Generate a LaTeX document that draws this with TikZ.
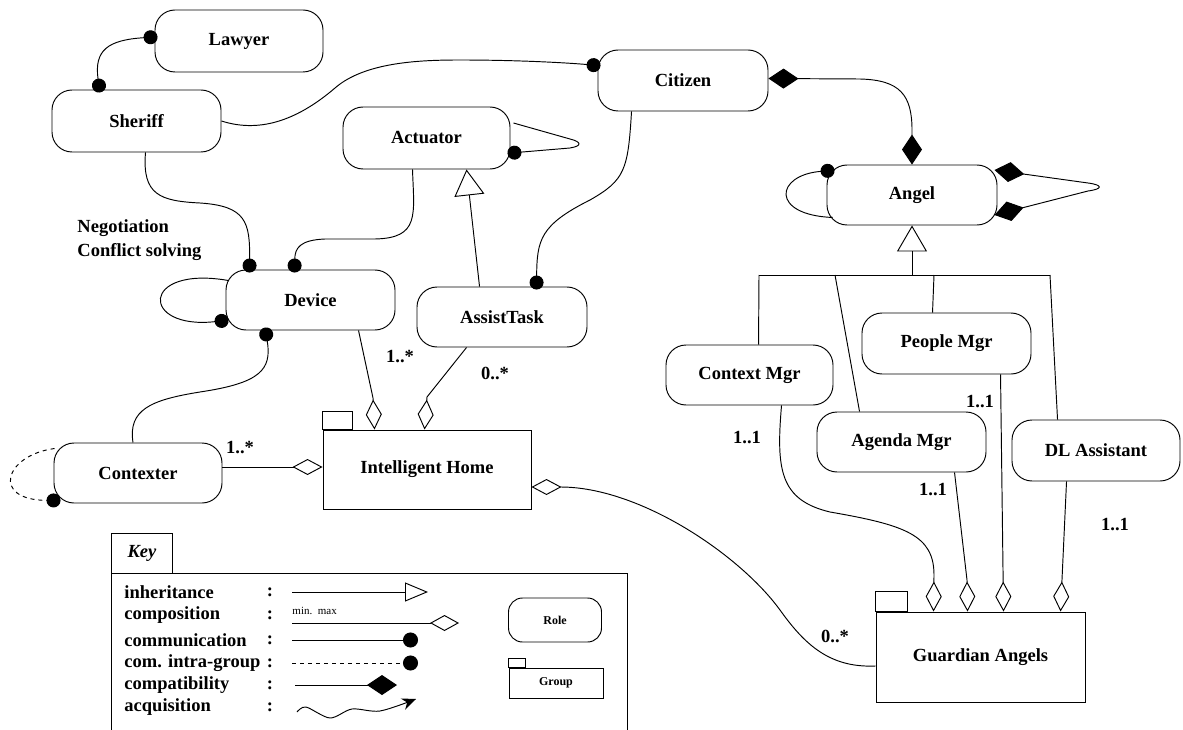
\documentclass[tikz,border=0pt]{standalone}
\usepackage{fontspec}
\setmainfont{Liberation Serif}
\usetikzlibrary{arrows.meta,calc}
\tikzset{
  txt/.style={font=\fontsize{18.5}{21}\selectfont\bfseries},
  role/.style={draw,rounded corners=20pt,inner sep=0pt,txt},
  grp/.style={draw,inner sep=0pt,txt},
  lbl/.style={inner sep=0pt,txt},
  c1/.style={-{Circle[length=14pt]},shorten >=-3pt},
  c0/.style={{Circle[length=14pt]}-,shorten <=-3pt},
  c2/.style={{Circle[length=14pt]}-{Circle[length=14pt]},shorten >=-3pt,shorten <=-3pt},
  comp/.style={-{Diamond[open,length=30pt,width=16pt]}},
  f2/.style={{Diamond[length=30pt,width=20pt]}-{Diamond[length=30pt,width=20pt]}},
  inh/.style={-{Triangle[open,length=26pt,width=30pt]}},
}
\begin{document}
\begin{tikzpicture}[x=1pt,y=-1pt,line width=0.95pt]
\useasboundingbox (0,0) rectangle (1183,730);

% roles
\node[role,minimum width=168pt,minimum height=62pt] (lawyer) at (239,41) {Lawyer};
\node[role,minimum width=169pt,minimum height=62pt] (sheriff) at (136.5,121) {Sheriff};
\node[role,minimum width=170pt,minimum height=61pt] (citizen) at (683,80.5) {Citizen};
\node[role,minimum width=167pt,minimum height=62pt] (actuator) at (426.5,138) {Actuator};
\node[role,minimum width=170pt,minimum height=60pt] (angel) at (912,195) {Angel};
\node[role,minimum width=169pt,minimum height=60pt] (device) at (310.5,300) {Device};
\node[role,minimum width=170pt,minimum height=60pt] (assist) at (502,317) {AssistTask};
\node[role,minimum width=168pt,minimum height=60pt] (contexter) at (138,473) {Contexter};
\node[role,minimum width=167pt,minimum height=60pt] (contextmgr) at (749.5,375) {Context Mgr};
\node[role,minimum width=169pt,minimum height=61pt] (peoplemgr) at (946.5,343.5) {People Mgr};
\node[role,minimum width=169pt,minimum height=60pt] (agendamgr) at (901.5,442) {Agenda Mgr};
\node[role,minimum width=168pt,minimum height=61pt] (dlassist) at (1096,450.5) {DL Assistant};

% groups
\node[grp,minimum width=208pt,minimum height=79pt] (ih) at (427,469.5) {Intelligent Home};
\draw (ih.north west) rectangle ($(ih.north west)+(30,-18)$);
\node[grp,minimum width=209pt,minimum height=90pt] (ga) at (980.5,657) {Guardian Angels};
\draw (ga.north west) rectangle ($(ga.north west)+(32,-20)$);

% free text
\node[lbl,anchor=west] (neg1) at (77,228) {Negotiation};
\node[lbl,anchor=west] (neg2) at (77,252) {Conflict solving};

% connectors
\draw[c2] ($(lawyer.west)+(0,-4)$) .. controls (108,40) and (94,50) .. ($(sheriff.north west)+(48,0)$);
\draw[c1] (sheriff.east) .. controls (262,134) and (300,118) .. (335,88) .. controls (365,62) and (420,60) .. (460,60) .. controls (520,60) and (570,63) .. ($(citizen.west)+(0,-15)$);
\draw[c1] ($(sheriff.south)+(9,0)$) .. controls (142,195) and (160,201) .. (200,203) .. controls (246,206) and (250,222) .. ($(device.north west)+(24,0)$);
\draw[c1] ($(actuator.south)+(-14,0)$) .. controls (414,215) and (420,238) .. (375,239) -- (325,239) .. controls (300,240) and (295,248) .. ($(device.north west)+(69,0)$);
\draw[c1] ($(actuator.east)+(3,-15)$) -- (570,139) .. controls (582,142) and (582,146) .. (570,148) -- ($(actuator.east)+(0,15)$);
\draw[inh] ($(assist.north west)+(63,0)$) -- ($(actuator.south)+(40,0)$);
\draw[c1] ($(citizen.south west)+(34,0)$) .. controls (628,170) and (625,180) .. (590,200) .. controls (540,225) and (537,240) .. ($(assist.north west)+(120,0)$);
\draw[c1] ($(device.north west)+(3,11)$) .. controls (140,265) and (140,330) .. ($(device.south west)+(0,-10)$);
\draw[c0] ($(device.south west)+(40,0)$) .. controls (272,370) and (260,383) .. (200,392) .. controls (150,400) and (128,410) .. ($(contexter.north)+(-5,0)$);
\draw[comp] ($(device.south west)+(133,0)$) -- (373,398) -- ($(ih.north west)+(52,0)$);
\draw[comp] ($(assist.south west)+(50,0)$) -- (427,397) -- ($(ih.north west)+(102,0)$);
\draw[comp] ($(contexter.east)+(0,-6)$) -- ($(ih.west)+(0,-2.5)$);
\draw[c1,dash pattern=on 4pt off 4pt] ($(contexter.north west)+(1,6)$) .. controls (5,455) and (-10,500) .. ($(contexter.south west)+(4,-3)$);
\draw[comp] ($(ga.west)+(0,9)$) .. controls (830,668) and (805,645) .. (780,610) .. controls (740,555) and (640,487) .. ($(ih.east)+(0,17.5)$);
\draw[f2] ($(citizen.east)+(0,-2)$) -- (860,79) .. controls (900,80) and (912,95) .. (912,130) -- (angel.north);
\draw[c0] ($(angel.north west)+(5,6)$) .. controls (775,175) and (770,215) .. ($(angel.south west)+(6,-8)$);
\draw[f2] ($(angel.east)+(-3,-25)$) -- (1088,183) .. controls (1103,185) and (1103,189) .. (1088,191) -- ($(angel.east)+(-3,20)$);

% inheritance tree under Angel
\coordinate (bar) at (912,275);
\coordinate (barL) at (759,275);
\coordinate (barA) at (835,275);
\coordinate (barP) at (934,275);
\coordinate (barR) at (1050,275);
\draw[inh] (bar) -- (angel.south);
\draw (barL) -- (barR);
\draw (barL) -- ($(contextmgr.north west)+(93,0)$);
\draw (barA) -- ($(agendamgr.north west)+(43,0)$);
\draw (barP) -- ($(peoplemgr.north west)+(71,0)$);
\draw (barR) -- ($(dlassist.north west)+(46,0)$);

% compositions into Guardian Angels
\draw[comp] ($(contextmgr.south west)+(116,0)$) .. controls (776,470) and (780,500) .. (830,512) .. controls (905,525) and (934,535) .. (934,575) -- ($(ga.north west)+(58,0)$);
\draw[comp] ($(agendamgr.south west)+(138,0)$) -- (967,580) -- ($(ga.north west)+(92,0)$);
\draw[comp] ($(peoplemgr.south west)+(139,0)$) -- ($(ga.north west)+(128,0)$);
\draw[comp] ($(dlassist.south west)+(55,0)$) -- ($(ga.north west)+(185,0)$);

% multiplicities
\node[lbl] (m1) at (400,357) {1..*};
\node[lbl] (m2) at (495,373) {0..*};
\node[lbl] (m3) at (240,448) {1..*};
\node[lbl] (m4) at (835,636) {0..*};
\node[lbl] (m5) at (747,438) {1..1};
\node[lbl] (m6) at (980,402) {1..1};
\node[lbl] (m7) at (933,490) {1..1};
\node[lbl] (m8) at (1115,525) {1..1};

% key
\draw (111,730) -- (111,573) -- (627,573) -- (627,730);
\node[draw,inner sep=0pt,minimum width=61pt,minimum height=40pt,anchor=north west,font=\fontsize{18.5}{21}\selectfont\bfseries\itshape] (keytab) at (111,533) {Key};
\node[lbl,anchor=west] (k1) at (124,592) {inheritance};
\node[lbl,anchor=west] (k2) at (124,615) {composition};
\node[lbl,anchor=west] (k3) at (124,640) {communication};
\node[lbl,anchor=west] (k4) at (124,663) {com. intra-group};
\node[lbl,anchor=west] (k5) at (124,685) {compatibility};
\node[lbl,anchor=west] (k6) at (124,707) {acquisition};
\foreach \yy in {592,615,640,663,685,707} \node[lbl] at (270,\yy) {:};
\draw[-{Triangle[open,length=23pt,width=19pt]}] (292,592) -- (428,592);
\node[inner sep=0pt,anchor=west,font=\fontsize{11}{13}\selectfont] (minmax) at (292,611) {min.\ \ max};
\draw[-{Diamond[open,length=29pt,width=16pt]}] (292,623) -- (459,623);
\draw[-{Circle[length=15pt]}] (292,640) -- (418,640);
\draw[dash pattern=on 4pt off 4pt,-{Circle[length=15pt]}] (292,663) -- (418,663);
\draw[-{Diamond[length=30pt,width=20pt]}] (295,685) -- (397,685);
\draw[-{Stealth[length=14pt,width=12pt]}] plot[smooth] coordinates {(297,712) (306,707) (330,718) (352,709) (380,711) (416,699)};
\node[draw,rounded corners=14pt,inner sep=0pt,minimum width=93pt,minimum height=44pt,font=\fontsize{12}{14}\selectfont\bfseries] (rolekey) at (555,620) {Role};
\node[draw,inner sep=0pt,minimum width=94pt,minimum height=30pt,font=\fontsize{12}{14}\selectfont\bfseries] (grpkey) at (556,683) {Group};
\draw (grpkey.north west) rectangle ($(grpkey.north west)+(17,-9)$);
\end{tikzpicture}
\end{document}
